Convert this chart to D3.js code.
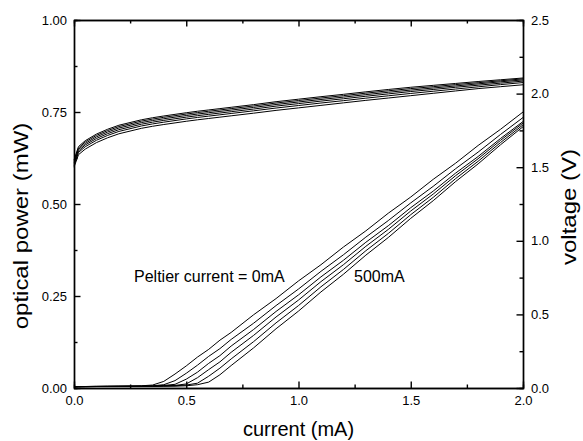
<!DOCTYPE html>
<html>
<head>
<meta charset="utf-8">
<script src="https://cdn.jsdelivr.net/npm/d3@7"></script>
<style>
body { margin: 0; background: #fff; }
.axis path, .axis line { stroke: #000; stroke-width: 1.4px; }
.axis text { font-family: "Liberation Sans", Arial, sans-serif; font-size: 13px; fill: #000; }
.title { font-family: "Liberation Sans", Arial, sans-serif; font-size: 20px; fill: #000; }
.note { font-family: "Liberation Sans", Arial, sans-serif; font-size: 16px; fill: #000; }
</style>
</head>
<body>
<div id="chart"></div>
<script>
// drive current (mA), shared by every sweep
var current = [0, 0.02, 0.05, 0.1, 0.15, 0.2, 0.3, 0.35, 0.4, 0.45, 0.5, 0.55, 0.6, 0.65, 0.7,
               0.8, 0.9, 1.0, 1.1, 1.2, 1.3, 1.4, 1.5, 1.6, 1.7, 1.8, 1.9, 2.0];

// optical power (mW), Peltier current 0 .. 500 mA
var power0 = [0.004,0.004,0.004,0.005,0.005,0.005,0.006,0.008,0.018,0.038,0.060,0.084,0.105,0.130,0.151,0.199,0.243,0.291,0.335,0.383,0.427,0.475,0.519,0.567,0.611,0.659,0.703,0.750];
var power1 = [0.004,0.004,0.004,0.004,0.005,0.005,0.005,0.006,0.009,0.020,0.040,0.062,0.086,0.107,0.132,0.176,0.224,0.269,0.317,0.362,0.410,0.455,0.503,0.548,0.596,0.641,0.689,0.735];
var power2 = [0.004,0.004,0.004,0.004,0.004,0.005,0.005,0.005,0.007,0.010,0.024,0.043,0.067,0.088,0.114,0.159,0.208,0.253,0.302,0.347,0.396,0.441,0.490,0.535,0.584,0.629,0.678,0.724];
var power3 = [0.003,0.004,0.004,0.004,0.004,0.004,0.005,0.005,0.006,0.007,0.011,0.028,0.050,0.071,0.097,0.143,0.193,0.239,0.289,0.335,0.385,0.431,0.481,0.527,0.577,0.623,0.673,0.720];
var power4 = [0.003,0.003,0.004,0.004,0.004,0.004,0.004,0.005,0.005,0.006,0.008,0.013,0.032,0.054,0.079,0.126,0.177,0.224,0.275,0.322,0.373,0.420,0.471,0.518,0.569,0.616,0.667,0.715];
var power5 = [0.003,0.003,0.003,0.004,0.004,0.004,0.004,0.004,0.005,0.005,0.006,0.009,0.016,0.036,0.061,0.109,0.161,0.209,0.261,0.309,0.361,0.409,0.461,0.509,0.561,0.609,0.661,0.710];

// voltage (V), same order
var volt0 = [1.55,1.64,1.680,1.725,1.758,1.785,1.822,1.836,1.848,1.859,1.870,1.880,1.889,1.898,1.907,1.925,1.945,1.962,1.979,1.995,2.012,2.028,2.043,2.056,2.069,2.082,2.094,2.106];
var volt1 = [1.54,1.63,1.671,1.716,1.749,1.776,1.813,1.827,1.839,1.850,1.861,1.871,1.880,1.889,1.898,1.916,1.936,1.953,1.970,1.986,2.003,2.019,2.034,2.047,2.061,2.074,2.087,2.100];
var volt2 = [1.53,1.62,1.661,1.706,1.739,1.766,1.803,1.817,1.829,1.840,1.851,1.861,1.870,1.879,1.888,1.906,1.926,1.943,1.960,1.976,1.993,2.009,2.024,2.038,2.052,2.066,2.080,2.093];
var volt3 = [1.52,1.61,1.651,1.695,1.728,1.755,1.792,1.806,1.818,1.829,1.840,1.850,1.859,1.868,1.877,1.895,1.915,1.932,1.949,1.965,1.982,1.998,2.014,2.028,2.043,2.057,2.071,2.085];
var volt4 = [1.51,1.60,1.639,1.683,1.716,1.743,1.780,1.794,1.806,1.817,1.828,1.838,1.847,1.856,1.865,1.883,1.902,1.919,1.936,1.952,1.969,1.985,2.001,2.016,2.031,2.046,2.061,2.075];
var volt5 = [1.50,1.585,1.623,1.667,1.700,1.727,1.764,1.778,1.790,1.801,1.812,1.822,1.831,1.840,1.849,1.867,1.886,1.903,1.920,1.937,1.954,1.970,1.986,2.002,2.018,2.034,2.047,2.060];

var xTicks = [0, 0.5, 1.0, 1.5, 2.0];
var powerTicks = [0, 0.25, 0.5, 0.75, 1.0];
var voltTicks = [0, 0.5, 1.0, 1.5, 2.0, 2.5];

var powerSeries = [power0, power1, power2, power3, power4, power5];
var voltSeries = [volt0, volt1, volt2, volt3, volt4, volt5];

var margin = {top: 20, right: 60, bottom: 53, left: 74},
    width = 583 - margin.left - margin.right,
    height = 441 - margin.top - margin.bottom;

var x = d3.scaleLinear().domain([0, 2]).range([0, width]);
var y = d3.scaleLinear().domain([0, 1]).range([height, 0]);
var yV = d3.scaleLinear().domain([0, 2.5]).range([height, 0]);

var svg = d3.select("#chart")
  .append("svg")
    .attr("width", width + margin.left + margin.right)
    .attr("height", height + margin.top + margin.bottom)
  .append("g")
    .attr("transform", "translate(" + margin.left + "," + margin.top + ")");

function minors(ticks) {
  var m = [];
  for (var i = 0; i < ticks.length - 1; i++) m.push((ticks[i] + ticks[i + 1]) / 2);
  return m;
}

// minor ticks first, all pointing inward
svg.append("g").attr("class", "axis").attr("transform", "translate(0," + height + ")")
    .call(d3.axisBottom(x).tickValues(minors(xTicks)).tickSize(-3.5).tickFormat(""));
svg.append("g").attr("class", "axis")
    .call(d3.axisTop(x).tickValues(minors(xTicks)).tickSize(-3.5).tickFormat(""));
svg.append("g").attr("class", "axis")
    .call(d3.axisLeft(y).tickValues(minors(powerTicks)).tickSize(-3.5).tickFormat(""));
svg.append("g").attr("class", "axis").attr("transform", "translate(" + width + ",0)")
    .call(d3.axisRight(yV).tickValues(minors(voltTicks)).tickSize(-3.5).tickFormat(""));

// major ticks + frame
svg.append("g").attr("class", "axis").attr("transform", "translate(0," + height + ")")
    .call(d3.axisBottom(x).tickValues(xTicks).tickSize(-6.5).tickSizeOuter(0).tickPadding(8).tickFormat(d3.format(".1f")));
svg.append("g").attr("class", "axis")
    .call(d3.axisTop(x).tickValues(xTicks).tickSize(-6.5).tickSizeOuter(0).tickFormat(""));
svg.append("g").attr("class", "axis")
    .call(d3.axisLeft(y).tickValues(powerTicks).tickSize(-6.5).tickSizeOuter(0).tickPadding(7).tickFormat(d3.format(".2f")));
svg.append("g").attr("class", "axis").attr("transform", "translate(" + width + ",0)")
    .call(d3.axisRight(yV).tickValues(voltTicks).tickSize(-6.5).tickSizeOuter(0).tickPadding(8).tickFormat(d3.format(".1f")));

var powerLine = d3.line()
    .x(function(d, i) { return x(current[i]); })
    .y(function(d) { return y(d); });
var voltLine = d3.line()
    .x(function(d, i) { return x(current[i]); })
    .y(function(d) { return yV(d); });

svg.selectAll(".power")
    .data(powerSeries)
  .enter().append("path")
    .attr("class", "power")
    .attr("fill", "none")
    .attr("stroke", "#000")
    .attr("stroke-width", 1)
    .attr("d", powerLine);

svg.selectAll(".volt")
    .data(voltSeries)
  .enter().append("path")
    .attr("class", "volt")
    .attr("fill", "none")
    .attr("stroke", "#000")
    .attr("stroke-width", 1)
    .attr("d", voltLine);

// annotations
svg.append("text").attr("class", "note")
    .attr("x", 60).attr("y", 262)
    .text("Peltier current = 0mA");
svg.append("text").attr("class", "note")
    .attr("x", 280).attr("y", 262)
    .text("500mA");

// axis titles (the vertical ones are a bit stretched in the original)
svg.append("text").attr("class", "title")
    .attr("text-anchor", "middle")
    .attr("x", width / 2).attr("y", height + 48)
    .text("current (mA)");
svg.append("text").attr("class", "title")
    .attr("text-anchor", "middle")
    .attr("transform", "translate(-46," + (height / 2 + 22) + ") rotate(-90) scale(1.2,1)")
    .text("optical power (mW)");
svg.append("text").attr("class", "title")
    .attr("text-anchor", "middle")
    .attr("transform", "translate(" + (width + 53) + "," + (height / 2 + 3) + ") rotate(-90) scale(1.2,1)")
    .text("voltage (V)");
</script>
</body>
</html>
